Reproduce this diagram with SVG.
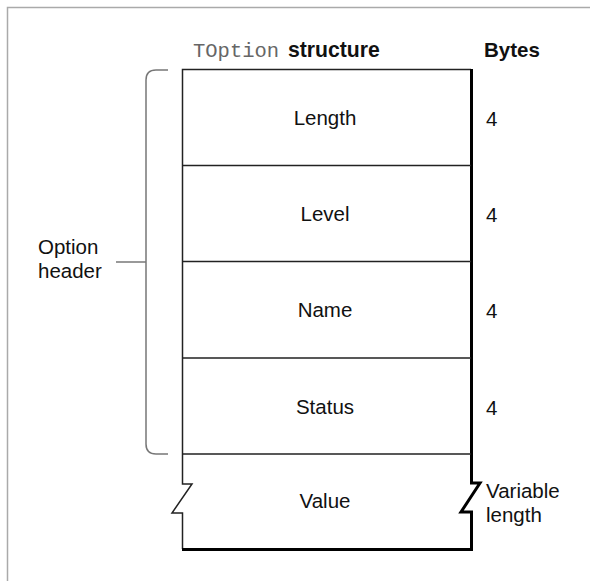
<svg xmlns="http://www.w3.org/2000/svg" width="590" height="581" viewBox="0 0 590 581">
<style>
.t{font-family:"Liberation Sans",Arial,sans-serif;font-size:20.5px;fill:#111}
.b{font-weight:bold}
.m{font-family:"Liberation Mono","DejaVu Sans Mono",monospace;font-size:20.5px;fill:#666}
.c{text-anchor:middle}
.ln{fill:none;stroke:#222;stroke-width:1.5}
.sh{fill:none;stroke:#000;stroke-width:3}
.br{fill:none;stroke:#777;stroke-width:1.5}
.fr{fill:none;stroke:#aaa;stroke-width:1.5}
</style>
<path class="fr" d="M7.5,581 V7.5 H590"/>
<g id="title">
<text class="m" x="193" y="57">TOption</text>
<text class="t b" x="288" y="57" style="font-size:21.2px">structure</text>
<text class="t b" x="484" y="57">Bytes</text>
</g>
<g id="connectors">
<path class="br" d="M168,70 H156 Q146,70 146,80 V444 Q146,454 156,454 H168"/>
<path class="br" d="M116,262 H146"/>
</g>
<g id="option-header">
<text class="t" x="38" y="254">Option</text>
<text class="t" x="38" y="278">header</text>
</g>
<g id="box">
<path class="ln" d="M471,69.5 H182.5 V484 H192 L172,513 H182.5 V549"/>
<path class="sh" d="M471.5,69 V483 H480 L461,512 H471.5 V549.5 H182"/>
<path class="ln" d="M182,165.5 H471 M182,261.5 H471 M182,358 H471 M182,454 H471"/>
</g>
<g id="length"><text class="t c" x="325" y="125">Length</text><text class="t" x="486" y="126">4</text></g>
<g id="level"><text class="t c" x="325" y="221">Level</text><text class="t" x="486" y="222">4</text></g>
<g id="name"><text class="t c" x="325" y="317">Name</text><text class="t" x="486" y="318">4</text></g>
<g id="status"><text class="t c" x="325" y="414">Status</text><text class="t" x="486" y="415">4</text></g>
<g id="value"><text class="t c" x="325" y="508">Value</text><text class="t" x="486" y="498">Variable</text><text class="t" x="486" y="522">length</text></g>
</svg>
